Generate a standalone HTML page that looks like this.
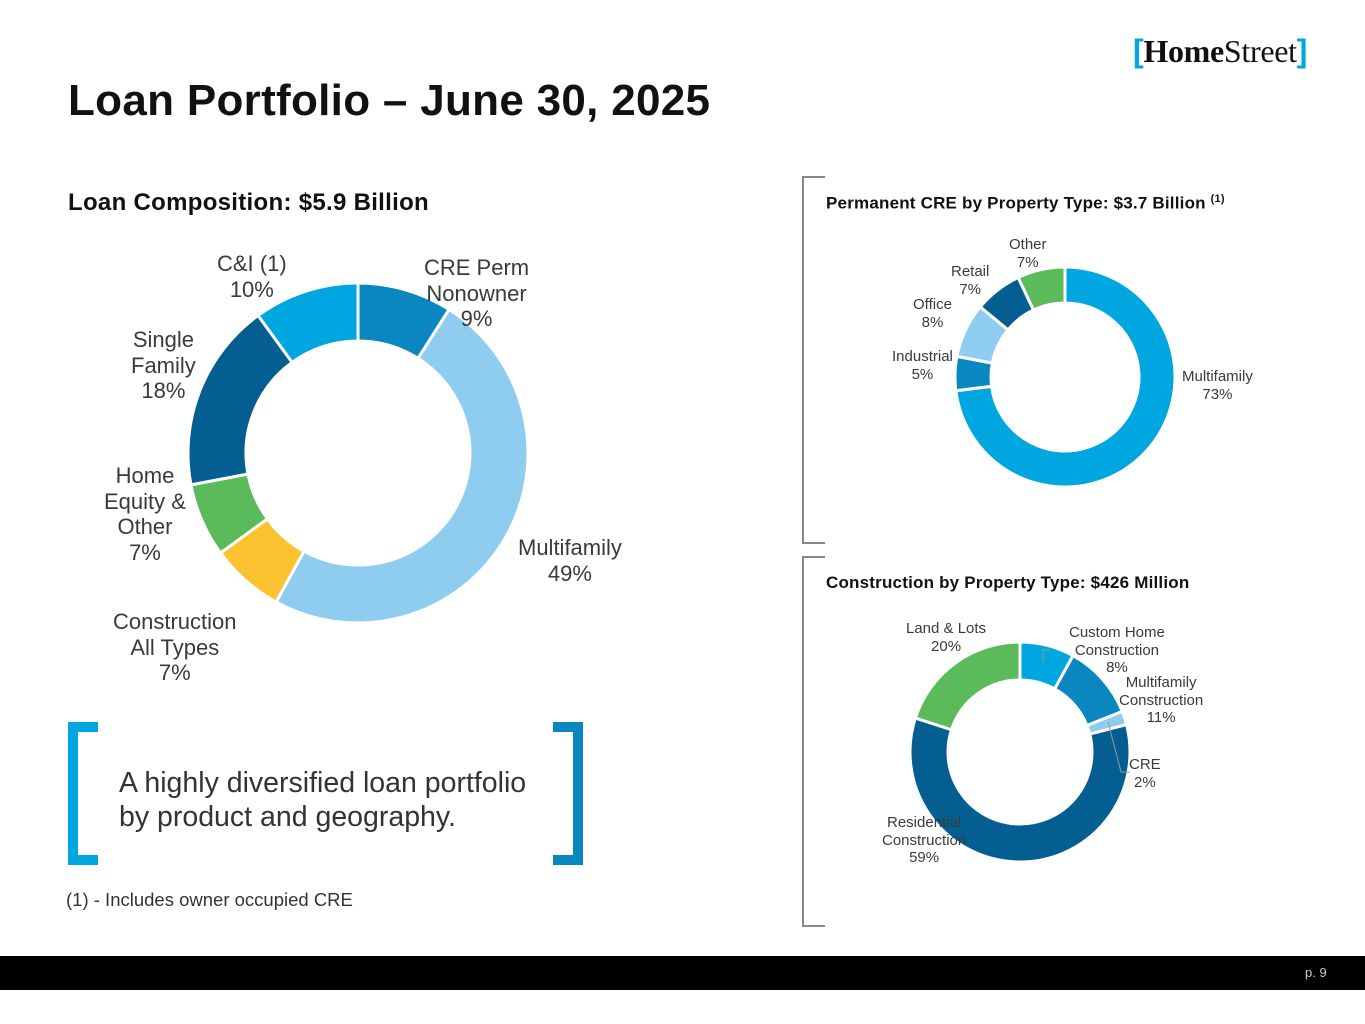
<!DOCTYPE html>
<html><head><meta charset="utf-8"><style>
body{margin:0;width:1365px;height:1024px;background:#fff;font-family:"Liberation Sans",sans-serif;position:relative;overflow:hidden}
.a{position:absolute}
.lbl{position:absolute;text-align:center;color:#3a3a3a;line-height:1.17}
</style></head><body>
<div class="a" style="left:1133px;top:33px;font-family:'Liberation Serif',serif;font-size:32px;color:#111;letter-spacing:-0.3px"><span style="color:#00a6e0;font-family:'Liberation Sans';font-weight:bold">[</span><b>Home</b>Street<span style="color:#00a6e0;font-family:'Liberation Sans';font-weight:bold">]</span></div>
<div class="a" style="left:68px;top:76px;font-size:44px;font-weight:bold;color:#111;letter-spacing:0.3px">Loan Portfolio – June 30, 2025</div>
<div class="a" style="left:68px;top:189px;font-size:24px;font-weight:bold;color:#111;letter-spacing:0.3px">Loan Composition: $5.9 Billion</div>
<div class="a" style="left:826px;top:193px;font-size:17px;font-weight:bold;color:#111;letter-spacing:0.2px">Permanent CRE by Property Type: $3.7 Billion <sup style="font-size:11px">(1)</sup></div>
<div class="a" style="left:826px;top:573px;font-size:17px;font-weight:bold;color:#111;letter-spacing:0.2px">Construction by Property Type: $426 Million</div>

<svg class="a" style="left:0;top:0" width="1365" height="1024" id="svg">
<path d="M825 177H803V543H825" fill="none" stroke="#888" stroke-width="2"/>
<path d="M825 557H803V926H825" fill="none" stroke="#888" stroke-width="2"/>
<path d="M98 727H73V860H98" fill="none" stroke="#00a6e0" stroke-width="10"/>
<path d="M553 727H578V860H553" fill="none" stroke="#0a86c0" stroke-width="10"/>
</svg>

<div class="lbl" style="left:424px;top:255px;font-size:22px">CRE Perm<br>Nonowner<br>9%</div>
<div class="lbl" style="left:518px;top:535px;font-size:22px">Multifamily<br>49%</div>
<div class="lbl" style="left:113px;top:609px;font-size:22px">Construction<br>All Types<br>7%</div>
<div class="lbl" style="left:104px;top:463px;font-size:22px">Home<br>Equity &amp;<br>Other<br>7%</div>
<div class="lbl" style="left:131px;top:327px;font-size:22px">Single<br>Family<br>18%</div>
<div class="lbl" style="left:217px;top:251px;font-size:22px">C&amp;I (1)<br>10%</div>

<div class="lbl" style="left:1182px;top:368px;font-size:15px">Multifamily<br>73%</div>
<div class="lbl" style="left:892px;top:348px;font-size:15px">Industrial<br>5%</div>
<div class="lbl" style="left:913px;top:296px;font-size:15px">Office<br>8%</div>
<div class="lbl" style="left:951px;top:263px;font-size:15px">Retail<br>7%</div>
<div class="lbl" style="left:1009px;top:236px;font-size:15px">Other<br>7%</div>

<div class="lbl" style="left:906px;top:620px;font-size:15px">Land &amp; Lots<br>20%</div>
<div class="lbl" style="left:1069px;top:624px;font-size:15px">Custom Home<br>Construction<br>8%</div>
<div class="lbl" style="left:1119px;top:674px;font-size:15px">Multifamily<br>Construction<br>11%</div>
<div class="lbl" style="left:1129px;top:756px;font-size:15px">CRE<br>2%</div>
<div class="lbl" style="left:882px;top:814px;font-size:15px">Residential<br>Construction<br>59%</div>

<div class="a" style="left:119px;top:767px;font-size:28.5px;color:#333;line-height:1.18">A highly diversified loan portfolio<br>by product and geography.</div>
<div class="a" style="left:66px;top:889px;font-size:18.5px;color:#333">(1) - Includes owner occupied CRE</div>
<div class="a" style="left:0;top:956px;width:1365px;height:34px;background:#000"></div>
<div class="a" style="left:1305px;top:965px;font-size:13px;color:#ccc">p. 9</div>

<script>
const mainCats=["CRE Perm Nonowner","Multifamily","Construction","Home Equity & Other","Single Family","C&I"];
const mainVals=[9,49,7,7,18,10];
const mainColors=["#0a86c0","#8fcdf0","#f9c22e","#5bbb5b","#045e91","#00a6e0"];
const permCats=["Multifamily","Industrial","Office","Retail","Other"];
const permVals=[73,5,8,7,7];
const permColors=["#00a6e0","#0a86c0","#8fcdf0","#045e91","#5bbb5b"];
const consCats=["Custom Home","Multifamily Construction","CRE","Residential","Land & Lots"];
const consVals=[8,11,2,59,20];
const consColors=["#00a6e0","#0a86c0","#8fcdf0","#045e91","#5bbb5b"];
const svg=document.getElementById('svg');
function donut(cats,vals,colors,cx,cy,ro,ri,name){
  const tot=vals.reduce((a,b)=>a+b,0);let a0=0;
  vals.forEach((v,i)=>{
    const a1=a0+v/tot*2*Math.PI;
    const p=(r,a)=>[cx+r*Math.sin(a),cy-r*Math.cos(a)];
    const [x1,y1]=p(ro,a0),[x2,y2]=p(ro,a1),[x3,y3]=p(ri,a1),[x4,y4]=p(ri,a0);
    const lg=(a1-a0)>Math.PI?1:0;
    const el=document.createElementNS('http://www.w3.org/2000/svg','path');
    el.setAttribute('d',`M${x1} ${y1}A${ro} ${ro} 0 ${lg} 1 ${x2} ${y2}L${x3} ${y3}A${ri} ${ri} 0 ${lg} 0 ${x4} ${y4}Z`);
    el.setAttribute('fill',colors[i]);el.setAttribute('stroke','#fff');el.setAttribute('stroke-width','3');
    
    
    svg.appendChild(el);a0=a1;
  });
}
donut(mainCats,mainVals,mainColors,358,453,170,112,'main');
donut(permCats,permVals,permColors,1065,377,110,74,'perm');
donut(consCats,consVals,consColors,1020,752,110,72,'cons');
const ln=document.createElementNS('http://www.w3.org/2000/svg','path');
ln.setAttribute('d','M1108 722L1121 772H1130M1043 662V650H1050');
ln.setAttribute('fill','none');ln.setAttribute('stroke','#999');ln.setAttribute('stroke-width','1');


svg.appendChild(ln);
</script>
</body></html>
